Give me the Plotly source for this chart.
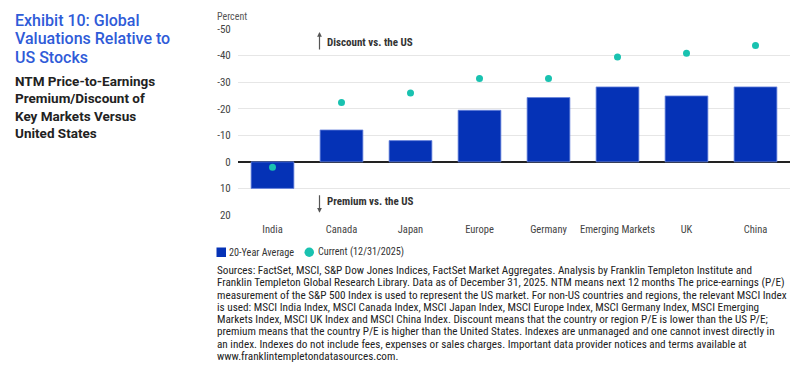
import plotly.graph_objects as go

categories = ["India", "Canada", "Japan", "Europe", "Germany", "Emerging Markets", "UK", "China"]
avg_20y = [10, -12, -8, -19.4, -24.2, -28.2, -24.8, -28.2]
current = [2, -22.3, -25.9, -31.4, -31.4, -39.5, -40.9, -43.8]
y_ticks = [-50, -40, -30, -20, -10, 0, 10, 20]
series_names = ["20-Year Average", "Current (12/31/2025)"]
BAR_C = "#0532B6"
DOT_C = "#19C2B0"

FONT = "Roboto, sans-serif"
NARROW = "Roboto Condensed, Liberation Sans Narrow, Roboto, sans-serif"

# page body has an 8px margin; plot area on screen: x 237.5-789.5, y 29-215
PX0, PW, PY1, PH = 237.5, 552.0, 215.0, 186.0
def px(X):
    return (X - PX0) / PW
def py(Y):
    return (PY1 - Y) / PH

fig = go.Figure()
fig.add_trace(go.Bar(
    x=categories, y=avg_20y, name=series_names[0],
    marker=dict(color=BAR_C, line=dict(color="#6a84dc", width=0.8)),
    width=0.62, showlegend=False,
))
fig.add_trace(go.Scatter(
    x=categories, y=current, name=series_names[1], mode="markers",
    marker=dict(color=DOT_C, size=7), showlegend=False,
))

fig.update_layout(
    width=800, height=386,
    margin=dict(l=230, r=18, t=21, b=179),
    plot_bgcolor="white", paper_bgcolor="white",
    showlegend=False,
)
fig.update_xaxes(
    showgrid=False, showline=False, ticks="outside", ticklen=4, tickcolor="rgba(0,0,0,0)",
    tickfont=dict(family=NARROW, size=10.5, color="#444"),
    range=[-0.5, 7.5],
)
fig.update_yaxes(
    range=[20, -50], tickvals=y_ticks, ticktext=[str(v) for v in y_ticks],
    showgrid=True, gridcolor="#e6e6e6", gridwidth=1,
    zeroline=True, zerolinecolor="#222", zerolinewidth=1.5,
    showline=False, ticks="outside", ticklen=4, tickcolor="rgba(0,0,0,0)",
    tickfont=dict(family=NARROW, size=11, color="#444"),
)

ann = []
shapes = []
ann.append(dict(xref="paper", yref="paper", x=px(214), y=py(16.5), xanchor="left", yanchor="middle",
                text="Percent", showarrow=False, font=dict(family=NARROW, size=10, color="#555")))
# arrows
ann.append(dict(xref="paper", yref="y", x=px(319), y=-48.9, ax=0, ay=19, showarrow=True,
                arrowhead=2, arrowsize=0.8, arrowwidth=1.2, arrowcolor="#555", text=""))
ann.append(dict(xref="paper", yref="y", x=px(319), y=19.2, ax=0, ay=-19, showarrow=True,
                arrowhead=2, arrowsize=0.8, arrowwidth=1.2, arrowcolor="#555", text=""))
ann.append(dict(xref="paper", yref="paper", x=px(324), y=py(42.7), xanchor="left", yanchor="middle",
                text="<b>Discount vs. the US</b>", showarrow=False,
                font=dict(family=NARROW, size=11, color="#333")))
ann.append(dict(xref="paper", yref="paper", x=px(324), y=py(201.7), xanchor="left", yanchor="middle",
                text="<b>Premium vs. the US</b>", showarrow=False,
                font=dict(family=NARROW, size=11, color="#333")))

# title block
title_lines = ["Exhibit 10: Global", "Valuations Relative to", "US Stocks"]
for i, t in enumerate(title_lines):
    ann.append(dict(xref="paper", yref="paper", x=px(12), y=py(20.5 + 18.3 * i),
                    xanchor="left", yanchor="middle", align="left", text=t, showarrow=False,
                    font=dict(family=FONT, size=16, color="#2F5BD8", weight=500)))
sub_lines = ["NTM Price-to-Earnings", "Premium/Discount of", "Key Markets Versus", "United States"]
for i, t in enumerate(sub_lines):
    ann.append(dict(xref="paper", yref="paper", x=px(12), y=py(80.5 + 17.6 * i),
                    xanchor="left", yanchor="middle", align="left", text="<b>" + t + "</b>",
                    showarrow=False, font=dict(family=FONT, size=13.5, color="#222")))

# legend row
shapes.append(dict(type="rect", xref="paper", yref="paper", x0=px(216), x1=px(225.5),
                   y0=py(257), y1=py(247.5), fillcolor=BAR_C, line=dict(width=0)))
ann.append(dict(xref="paper", yref="paper", x=px(226.5), y=py(252.3), xanchor="left", yanchor="middle",
                text=series_names[0], showarrow=False, font=dict(family=NARROW, size=10.2, color="#333")))
shapes.append(dict(type="circle", xref="paper", yref="paper", x0=px(304), x1=px(313.5),
                   y0=py(257), y1=py(247.5), fillcolor=DOT_C, line=dict(width=0)))
ann.append(dict(xref="paper", yref="paper", x=px(315.5), y=py(252.3), xanchor="left", yanchor="middle",
                text=series_names[1], showarrow=False, font=dict(family=NARROW, size=10.2, color="#333")))

foot = [
    "Sources: FactSet, MSCI, S&amp;P Dow Jones Indices, FactSet Market Aggregates. Analysis by Franklin Templeton Institute and",
    "Franklin Templeton Global Research Library. Data as of December 31, 2025. NTM means next 12 months The price-earnings (P/E)",
    "measurement of the S&amp;P 500 Index is used to represent the US market. For non-US countries and regions, the relevant MSCI Index",
    "is used: MSCI India Index, MSCI Canada Index, MSCI Japan Index, MSCI Europe Index, MSCI Germany Index, MSCI Emerging",
    "Markets Index, MSCI UK Index and MSCI China Index. Discount means that the country or region P/E is lower than the US P/E;",
    "premium means that the country P/E is higher than the United States. Indexes are unmanaged and one cannot invest directly in",
    "an index. Indexes do not include fees, expenses or sales charges. Important data provider notices and terms available at",
    "www.franklintempletondatasources.com.",
]
for i, t in enumerate(foot):
    ann.append(dict(xref="paper", yref="paper", x=px(214), y=py(270.5 + 12.27 * i),
                    xanchor="left", yanchor="middle", align="left", text=t, showarrow=False,
                    font=dict(family=NARROW, size=11.2, color="#222")))

fig.update_layout(annotations=ann, shapes=shapes)
fig.write_html("out.html")
